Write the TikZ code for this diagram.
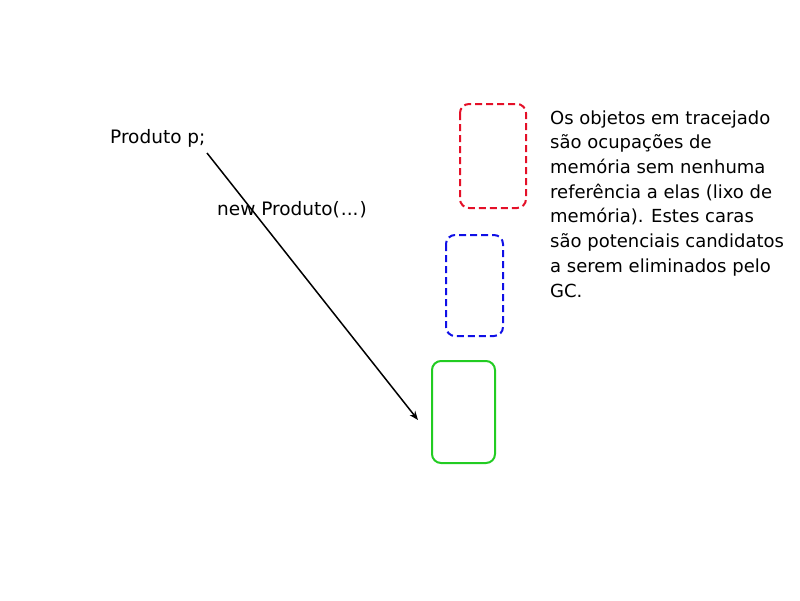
\documentclass[tikz,border=0pt]{standalone}
\usepackage{fontspec}
\setmainfont{DejaVu Sans}
\usetikzlibrary{arrows.meta}
\definecolor{boxred}{RGB}{228,16,40}
\definecolor{boxblue}{RGB}{16,16,230}
\definecolor{boxgreen}{RGB}{34,204,34}
\begin{document}
\begin{tikzpicture}[x=1pt,y=-1pt,
  obj/.style={draw,line width=2pt,rounded corners=9pt},
  garbage/.style={obj,dash pattern=on 7pt off 4pt},
  lbl/.style={font=\fontsize{18.5}{24.7}\selectfont,inner sep=0pt,anchor=base west}]
\useasboundingbox (0,0) rectangle (800,600);
\draw[garbage,boxred] (460,104) rectangle (526,208);
\draw[garbage,boxblue] (446,235) rectangle (503,336);
\draw[obj,boxgreen] (432,361) rectangle (495,463);
\node[lbl] (decl) at (110,143) {Produto p;};
\node[lbl] (newp) at (217,215) {new Produto(\kern1pt...\kern1pt)};
\node[lbl,align=left,font=\fontsize{18}{24.7}\selectfont] (note) at (550,297) {Os objetos em tracejado\\são ocupações de\\memória sem nenhuma\\referência a elas (lixo de\\memória). Estes caras\\são potenciais candidatos\\a serem eliminados pelo\\GC.};
\coordinate (start) at (207,153);
\coordinate (tip) at (418,420);
\draw[line width=1.5pt,-{Stealth[length=9pt,width=7pt]}] (start) -- (tip);
\end{tikzpicture}
\end{document}
